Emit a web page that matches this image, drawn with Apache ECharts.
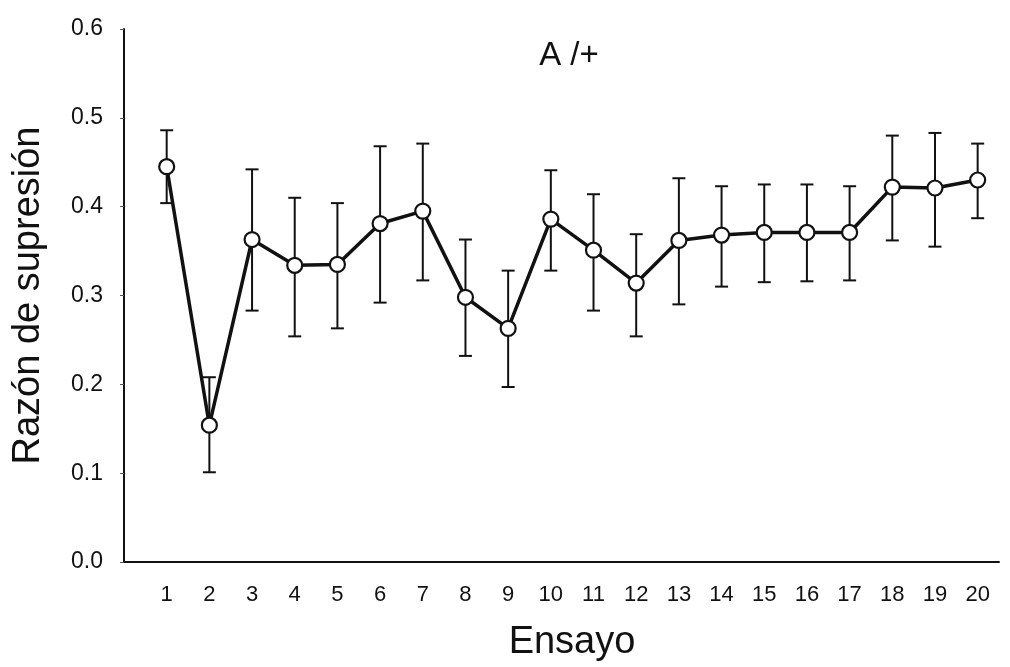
<!DOCTYPE html>
<html>
<head>
<meta charset="utf-8">
<script src="https://cdn.jsdelivr.net/npm/echarts@6/dist/echarts.min.js"></script>
<style>
  html, body { margin: 0; padding: 0; background: #ffffff; }
  #chart { width: 1010px; height: 667px; }
</style>
</head>
<body>
<div id="chart"></div>
<script>
// Trials (Ensayo) 1..20
const trials = ['1','2','3','4','5','6','7','8','9','10','11','12','13','14','15','16','17','18','19','20'];
// Mean suppression ratio per trial
const meanRatio = [0.445, 0.154, 0.363, 0.334, 0.335, 0.381, 0.395, 0.298, 0.263, 0.386,
                   0.351, 0.314, 0.362, 0.368, 0.371, 0.371, 0.371, 0.422, 0.421, 0.430];
// Upper and lower ends of the error bars
const upperBar = [0.486, 0.208, 0.442, 0.410, 0.404, 0.468, 0.471, 0.363, 0.328, 0.441,
                  0.414, 0.369, 0.432, 0.423, 0.425, 0.425, 0.423, 0.480, 0.483, 0.471];
const lowerBar = [0.404, 0.101, 0.283, 0.254, 0.263, 0.292, 0.317, 0.232, 0.197, 0.328,
                  0.283, 0.254, 0.290, 0.310, 0.315, 0.316, 0.317, 0.362, 0.355, 0.387];
const yTicks = [0, 0.1, 0.2, 0.3, 0.4, 0.5, 0.6];

// trial number on a numeric x scale (trial n sits at x = n)
const meanData = meanRatio.map((v, i) => [i + 1, v]);
const errorData = trials.map((t, i) => [i + 1, lowerBar[i], upperBar[i]]);

const chart = echarts.init(document.getElementById('chart'));
const fontFam = '"Liberation Sans", Arial, sans-serif';

chart.setOption({
  animation: false,
  backgroundColor: '#ffffff',
  title: {
    text: 'A /+',
    left: 564, top: 34,
    textAlign: 'center',
    textStyle: { fontFamily: fontFam, fontSize: 33, fontWeight: 'normal', color: '#111' }
  },
  grid: { left: 124, right: 11, top: 29, bottom: 105 },
  xAxis: {
    type: 'value',
    min: 0, max: 20.5, interval: 1,
    name: 'Ensayo',
    nameLocation: 'middle',
    nameGap: 62,
    nameTextStyle: { fontFamily: fontFam, fontSize: 38, color: '#111', padding: [0, 0, 0, 21] },
    axisLine: { lineStyle: { color: '#111', width: 2 } },
    axisTick: { show: false },
    splitLine: { show: false },
    axisLabel: {
      fontFamily: fontFam, fontSize: 22, color: '#111', margin: 22,
      formatter: v => (Number.isInteger(v) && v >= 1 && v <= trials.length) ? trials[v - 1] : ''
    }
  },
  yAxis: {
    type: 'value',
    min: 0, max: 0.6, interval: 0.1,
    name: 'Razón de supresión',
    nameLocation: 'middle',
    nameGap: 76,
    nameRotate: 90,
    nameTextStyle: { fontFamily: fontFam, fontSize: 38, color: '#111' },
    axisLine: { show: true, lineStyle: { color: '#111', width: 2 } },
    axisTick: { show: true, length: 4, lineStyle: { color: '#555', width: 1 } },
    splitLine: { show: false },
    axisLabel: {
      fontFamily: fontFam, fontSize: 23, color: '#111', margin: 21,
      formatter: v => yTicks.includes(Math.round(v * 10) / 10) ? v.toFixed(1) : ''
    }
  },
  series: [
    {
      type: 'custom',
      name: 'error',
      data: errorData,
      z: 1,
      renderItem: function (params, api) {
        const x = api.value(0);
        const lo = api.coord([x, api.value(1)]);
        const hi = api.coord([x, api.value(2)]);
        const cap = 6.5;
        const style = { stroke: '#111', lineWidth: 2 };
        return {
          type: 'group',
          children: [
            { type: 'line', shape: { x1: hi[0], y1: hi[1], x2: lo[0], y2: lo[1] }, style },
            { type: 'line', shape: { x1: hi[0] - cap, y1: hi[1], x2: hi[0] + cap, y2: hi[1] }, style },
            { type: 'line', shape: { x1: lo[0] - cap, y1: lo[1], x2: lo[0] + cap, y2: lo[1] }, style }
          ]
        };
      }
    },
    {
      type: 'line',
      name: 'media',
      data: meanData,
      z: 3,
      symbol: 'circle',
      symbolSize: 15,
      lineStyle: { color: '#111', width: 3.5 },
      itemStyle: { color: '#ffffff', borderColor: '#111', borderWidth: 2.2 }
    }
  ]
});
</script>
</body>
</html>
